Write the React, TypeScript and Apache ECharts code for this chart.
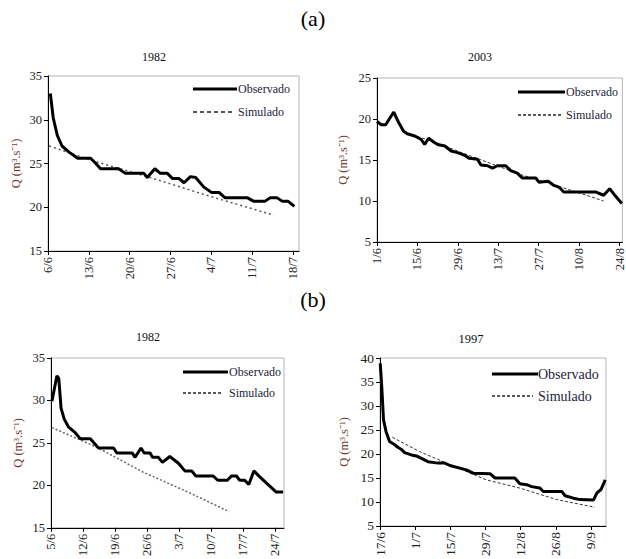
import React, { useEffect, useRef } from 'react';
import * as echarts from 'echarts';

const FONT = "'Liberation Serif', 'Times New Roman', serif";

// Tick labels (dates), one per tick
const dates1982a = ['6/6', '13/6', '20/6', '27/6', '4/7', '11/7', '18/7'];
const dates2003 = ['1/6', '15/6', '29/6', '13/7', '27/7', '10/8', '24/8'];
const dates1982b = ['5/6', '12/6', '19/6', '26/6', '3/7', '10/7', '17/7', '24/7'];
const dates1997 = ['17/6', '1/7', '15/7', '29/7', '12/8', '26/8', '9/9'];

const legendNames = ['Observado', 'Simulado'];

// [day since first tick, Q]
const obs1982a = [
  [0.4, 33.0], [0.9, 30.2], [1.6, 28.2], [2.4, 27.0], [3.6, 26.3], [5.1, 25.6], [7.3, 25.6],
  [8.2, 25.0], [9.0, 24.4], [12.1, 24.4], [13.2, 23.9], [16.4, 23.9], [17.0, 23.4], [18.3, 24.4],
  [19.2, 23.9], [20.4, 23.9], [21.3, 23.3], [22.4, 23.3], [23.3, 22.8], [24.4, 23.5], [25.3, 23.4],
  [26.7, 22.3], [28.0, 21.7], [29.3, 21.7], [30.3, 21.1], [34.1, 21.1], [35.2, 20.7], [37.2, 20.7],
  [38.1, 21.1], [39.2, 21.1], [40.1, 20.7], [41.1, 20.7], [42.2, 20.1],
];
const sim1982a = [[0.2, 27.0], [8.2, 25.2], [17.0, 23.5], [28.0, 21.2], [38.7, 19.1]];

const obs2003 = [
  [0, 19.7], [1.5, 19.3], [3.0, 19.3], [5.8, 20.85], [7.6, 19.5], [9.2, 18.5], [10.5, 18.2],
  [13.3, 17.9], [15.3, 17.5], [16.5, 16.9], [17.9, 17.65], [19.6, 17.2], [21.0, 16.9], [23.5, 16.7],
  [25.7, 16.1], [27.9, 15.9], [30.2, 15.6], [32.0, 15.2], [34.8, 15.1], [36.0, 14.4], [38.3, 14.3],
  [40.0, 14.0], [41.7, 14.3], [44.6, 14.3], [46.3, 13.7], [48.6, 13.4], [50.3, 12.8], [55.0, 12.8],
  [56.1, 12.3], [59.3, 12.4], [61.3, 11.9], [63.0, 11.7], [64.7, 11.1], [75.7, 11.1], [78.5, 10.7],
  [80.6, 11.5], [82.6, 10.6], [84.8, 9.7],
];
const sim2003 = [[9, 18.4], [20, 17.2], [30, 15.8], [40, 14.5], [50, 13.2], [60, 12.1], [70, 11.0], [78.5, 10.0]];

const obs1982b = [
  [0.2, 29.9], [1.3, 32.9], [1.7, 32.6], [2.2, 29.1], [2.9, 27.8], [3.8, 26.9], [5.3, 26.2],
  [6.4, 25.5], [8.6, 25.5], [10.4, 24.4], [13.7, 24.4], [14.4, 23.8], [17.8, 23.8], [18.4, 23.3],
  [19.7, 24.4], [20.4, 23.8], [21.7, 23.8], [22.2, 23.3], [23.5, 23.3], [24.4, 22.7], [26.0, 23.4],
  [27.9, 22.6], [29.3, 21.7], [30.8, 21.7], [31.7, 21.1], [35.5, 21.1], [36.5, 20.6], [38.6, 20.6],
  [39.5, 21.1], [40.6, 21.1], [41.3, 20.6], [42.4, 20.6], [43.3, 20.1], [44.4, 21.7], [45.7, 21.0],
  [49.3, 19.2], [50.8, 19.2],
];
const sim1982b = [[0.2, 26.8], [10, 24.5], [20, 21.6], [30, 19.2], [39, 16.9]];

const obs1997 = [
  [0.1, 38.9], [0.7, 34.0], [1.4, 27.1], [2.4, 24.7], [3.8, 22.6], [5.4, 22.1], [7.1, 21.4],
  [8.4, 21.0], [9.8, 20.3], [12.5, 19.8], [14.5, 19.6], [16.5, 19.1], [19.1, 18.4], [23.1, 18.1],
  [25.8, 18.1], [27.8, 17.6], [34.4, 16.7], [37.1, 16.0], [43.8, 15.9], [45.8, 15.0], [53.7, 15.0],
  [55.7, 13.8], [58.4, 13.6], [60.4, 13.2], [63.7, 12.9], [65.0, 12.2], [72.4, 12.2], [73.7, 11.3],
  [77.0, 10.8], [79.7, 10.5], [85.0, 10.4], [86.4, 11.9], [88.0, 12.6], [89.7, 14.6],
];
const sim1997 = [[4.9, 23.5], [15.8, 20.5], [27.8, 17.8], [42.4, 14.6], [55.7, 12.9], [70.4, 10.5], [85.6, 8.9]];

const panels = [
  { dates: dates1982a, step: 7, xMax: 43, yMin: 15, yMax: 35, obs: obs1982a, sim: sim1982a,
    grid: { left: 48, top: 76, width: 251, height: 175 }, nameGap: 26, fs: 12.5,
    leg: { x: 193, obsEnd: 237, simEnd: 232, tx: 238, y1: 89, y2: 112, fs: 12 },
    simStyle: { color: '#555', width: 1.5, type: [2, 3] }, legDash: [4, 3] },
  { dates: dates2003, step: 14, xMax: 85, yMin: 5, yMax: 25, obs: obs2003, sim: sim2003,
    grid: { left: 377, top: 78, width: 246, height: 164 }, nameGap: 28, fs: 12.5,
    leg: { x: 518, obsEnd: 565, simEnd: 561, tx: 566, y1: 92, y2: 115, fs: 12 },
    simStyle: { color: '#333', width: 1, type: [3, 2] }, legDash: [3, 2] },
  { dates: dates1982b, step: 7, xMax: 51, yMin: 15, yMax: 35, obs: obs1982b, sim: sim1982b,
    grid: { left: 51, top: 358, width: 233, height: 172 }, nameGap: 27, fs: 12.5,
    leg: { x: 183, obsEnd: 228, simEnd: 223, tx: 229, y1: 372, y2: 393, fs: 12 },
    simStyle: { color: '#666', width: 1.5, type: [2, 2] }, legDash: [3, 2] },
  { dates: dates1997, step: 14, xMax: 90, yMin: 5, yMax: 40, obs: obs1997, sim: sim1997,
    grid: { left: 380, top: 358, width: 226, height: 169 }, nameGap: 30, fs: 13.5,
    leg: { x: 492, obsEnd: 538, simEnd: 533, tx: 538, y1: 374, y2: 396, fs: 14 },
    simStyle: { color: '#333', width: 1, type: [3, 2] }, legDash: [3, 2] },
];

export default function App() {
  const ref = useRef<HTMLDivElement>(null);
  useEffect(() => {
    if (!ref.current) return;
    const chart = echarts.init(ref.current, undefined, { renderer: 'svg', width: 626, height: 559 });
    const legendGraphics = panels.flatMap((p) => [
      { type: 'line', shape: { x1: p.leg.x, y1: p.leg.y1, x2: p.leg.obsEnd, y2: p.leg.y1 }, style: { stroke: '#000', lineWidth: 3 } },
      { type: 'line', shape: { x1: p.leg.x, y1: p.leg.y2, x2: p.leg.simEnd, y2: p.leg.y2 }, style: { stroke: '#222', lineWidth: 1.5, lineDash: p.legDash } },
      { type: 'text', x: p.leg.tx, y: p.leg.y1, style: { text: legendNames[0], font: `${p.leg.fs}px ${FONT}`, fill: '#1c1c38', textAlign: 'left', textVerticalAlign: 'middle' } },
      { type: 'text', x: p.leg.tx, y: p.leg.y2, style: { text: legendNames[1], font: `${p.leg.fs}px ${FONT}`, fill: '#1c1c38', textAlign: 'left', textVerticalAlign: 'middle' } },
    ]);
    const option: any = {
      animation: false,
      backgroundColor: '#fff',
      grid: panels.map((p) => ({ ...p.grid, show: true, borderColor: '#b5b5b5', borderWidth: 1, backgroundColor: 'transparent' })),
      xAxis: panels.map((p, i) => {
        const vals = p.dates.map((_, k) => k * p.step);
        return {
          type: 'value', gridIndex: i, min: 0, max: p.xMax, interval: p.step,
          axisLine: { show: true, onZero: false, lineStyle: { color: '#000', width: 1 } },
          axisTick: { show: true, length: 4, customValues: vals, lineStyle: { color: '#000' } },
          axisLabel: {
            rotate: 90, margin: 6, customValues: vals, fontFamily: FONT, fontSize: p.fs, color: '#222',
            formatter: (v: number) => p.dates[Math.round(v / p.step)] ?? '',
          },
          splitLine: { show: false },
        };
      }),
      yAxis: panels.map((p, i) => ({
        type: 'value', gridIndex: i, min: p.yMin, max: p.yMax, interval: 5,
        axisLine: { show: true, onZero: false, lineStyle: { color: '#000', width: 1 } },
        axisTick: { show: true, length: 4, lineStyle: { color: '#000' } },
        axisLabel: { margin: 6, fontFamily: FONT, fontSize: p.fs, color: '#222' },
        splitLine: { show: false },
        name: 'Q (m³.s⁻¹)', nameLocation: 'middle', nameRotate: 90, nameGap: p.nameGap,
        nameTextStyle: { fontFamily: FONT, fontSize: 12.5, color: '#6e3b2e' },
      })),
      series: panels.flatMap((p, i) => [
        { type: 'line', name: legendNames[1], xAxisIndex: i, yAxisIndex: i, data: p.sim, symbol: 'none', showSymbol: false,
          lineStyle: p.simStyle, itemStyle: { color: p.simStyle.color }, z: 2 },
        { type: 'line', name: legendNames[0], xAxisIndex: i, yAxisIndex: i, data: p.obs, symbol: 'none', showSymbol: false,
          lineStyle: { color: '#000', width: 3 }, itemStyle: { color: '#000' }, z: 3 },
      ]),
      graphic: [
        { type: 'text', x: 313, y: 18, style: { text: '(a)', font: `22px ${FONT}`, fill: '#000', textAlign: 'center', textVerticalAlign: 'middle' } },
        { type: 'text', x: 313, y: 299, style: { text: '(b)', font: `22px ${FONT}`, fill: '#000', textAlign: 'center', textVerticalAlign: 'middle' } },
        { type: 'text', x: 154, y: 57, style: { text: '1982', font: `12px ${FONT}`, fill: '#111', textAlign: 'center', textVerticalAlign: 'middle' } },
        { type: 'text', x: 480, y: 57, style: { text: '2003', font: `12px ${FONT}`, fill: '#111', textAlign: 'center', textVerticalAlign: 'middle' } },
        { type: 'text', x: 148, y: 337, style: { text: '1982', font: `12px ${FONT}`, fill: '#111', textAlign: 'center', textVerticalAlign: 'middle' } },
        { type: 'text', x: 471, y: 339, style: { text: '1997', font: `12.5px ${FONT}`, fill: '#111', textAlign: 'center', textVerticalAlign: 'middle' } },
        ...legendGraphics,
      ],
    };
    chart.setOption(option);
    return () => chart.dispose();
  }, []);
  return <div ref={ref} style={{ position: 'absolute', left: 0, top: 0, width: 626, height: 559, background: '#fff' }} />;
}
